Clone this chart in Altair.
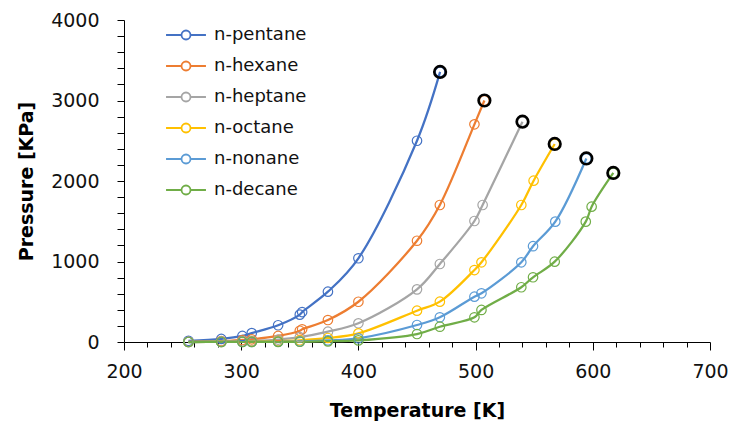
import altair as alt
import pandas as pd

# Series names and their Excel-style colours
names = ["n-pentane", "n-hexane", "n-heptane", "n-octane", "n-nonane", "n-decane"]
colors = ["#4472C4", "#ED7D31", "#A5A5A5", "#FFC000", "#5B9BD5", "#70AD47"]

# Vapour pressure curves: temperature [K] and pressure [kPa]
pentane_T = [255, 283, 301, 309, 331.5, 350, 352, 374, 400, 450, 469.7]
pentane_P = [14, 38, 75, 110, 208, 340, 372, 625, 1040, 2500, 3355]

hexane_T = [255, 283, 301, 309, 331.5, 350, 352, 374, 400, 450, 469.5, 499, 507.5]
hexane_P = [3, 11, 25, 33, 75, 140, 158, 273, 500, 1258, 1702, 2704, 3000]

heptane_T = [255, 283, 301, 309, 331.5, 350, 374, 400, 450, 469.5, 499, 506, 540]
heptane_P = [1, 4, 8, 12, 30, 60, 128, 232, 654, 969, 1503, 1702, 2737]

octane_T = [255, 283, 301, 309, 331.5, 350, 374, 400, 450, 469.5, 499, 505, 539, 549.5, 567.5]
octane_P = [0, 1.5, 3, 4, 11, 21, 50, 108, 389, 501, 894, 990, 1702, 2004, 2460]

nonane_T = [255, 283, 301, 309, 331.5, 350, 374, 400, 450, 469.5, 499, 505, 539, 549, 568, 594.5]
nonane_P = [0, 0.5, 1, 1.5, 4, 8, 20, 46, 211, 307, 563, 605, 990, 1190, 1495, 2280]

decane_T = [255, 283, 301, 309, 331.5, 350, 374, 400, 450, 469.5, 499, 505, 539, 549, 567.5, 594, 599, 617.5]
decane_P = [0, 0.2, 0.4, 0.6, 1.5, 3, 8, 20, 99, 190, 307, 398, 680, 804, 998, 1495, 1681, 2100]

series_T = [pentane_T, hexane_T, heptane_T, octane_T, nonane_T, decane_T]
series_P = [pentane_P, hexane_P, heptane_P, octane_P, nonane_P, decane_P]

# Axis tick positions (labels only on the major ones)
x_ticks = list(range(200, 701, 20))
y_ticks = list(range(0, 4001, 200))

rows = []
for name, ts, ps in zip(names, series_T, series_P):
    for i, (t, p) in enumerate(zip(ts, ps)):
        rows.append({"series": name, "T": t, "P": p, "idx": i})
df = pd.DataFrame(rows)

# Critical points: last point of each curve
crit = pd.DataFrame({"series": names,
                     "T": [ts[-1] for ts in series_T],
                     "P": [ps[-1] for ps in series_P]})

FONT = "DejaVu Sans"
INK = "#111111"

x_axis = alt.Axis(
    title="Temperature [K]",
    values=x_ticks,
    labelExpr="datum.value % 100 === 0 ? datum.label : ''",
    format="d",
    grid=False,
    tickSize=8,
    tickDash={"condition": {"test": "datum.value % 100 !== 0", "value": [5, 20]},
              "value": [10, 0]},
    tickColor="#000000",
    domainColor="#000000",
    labelFont=FONT, labelFontSize=19, labelColor=INK,
    labelPadding=12, labelOverlap=False, labelFlush=False,
    titleFont=FONT, titleFontSize=19, titleFontWeight="bold", titleColor="#000000",
    titlePadding=20,
)
y_axis = alt.Axis(
    title="Pressure [KPa]",
    values=y_ticks,
    labelExpr="datum.value % 1000 === 0 ? datum.label : ''",
    format="d",
    grid=False,
    tickSize=7,
    tickColor="#000000",
    domainColor="#000000",
    labelFont=FONT, labelFontSize=19, labelColor=INK,
    labelPadding=18, labelOverlap=False, labelFlush=False,
    titleFont=FONT, titleFontSize=19, titleFontWeight="bold", titleColor="#000000",
    titlePadding=14,
)

x_scale = alt.Scale(domain=[200, 700], nice=False, zero=False)
y_scale = alt.Scale(domain=[0, 4000], nice=False)


def x_enc():
    return alt.X("T:Q", scale=x_scale, axis=x_axis)


def y_enc():
    return alt.Y("P:Q", scale=y_scale, axis=y_axis)


color_scale = alt.Scale(domain=names, range=colors)

# Legend glyph: a short line with an open circle in the middle
glyph = ("M-1.33,0H-0.3A0.3,0.3 0 1,1 0.3,0A0.3,0.3 0 1,1 -0.3,0"
         "M0.3,0H1.33")

lines = alt.Chart(df).mark_line(interpolate="catmull-rom", strokeWidth=2.25).encode(
    x=x_enc(), y=y_enc(),
    color=alt.Color("series:N", scale=color_scale, sort=names,
                    legend=alt.Legend(
                        title=None, orient="none", legendX=46, legendY=-1,
                        symbolType=glyph, symbolSize=900, symbolStrokeWidth=1.8,
                        symbolFillColor="transparent",
                        labelFont=FONT, labelFontSize=18, labelColor=INK,
                        labelOffset=12, rowPadding=6, padding=0,
                    )),
    order="idx:Q",
)

points = alt.Chart(df).mark_point(filled=False, size=90, strokeWidth=1.2, opacity=1).encode(
    x=x_enc(), y=y_enc(),
    color=alt.Color("series:N", scale=color_scale, sort=names, legend=None),
)

ends = alt.Chart(crit).mark_point(filled=False, size=135, strokeWidth=2.6,
                                  color="#000000", opacity=1).encode(
    x=x_enc(), y=y_enc(),
)

chart = alt.layer(lines, points, ends).properties(
    width=586, height=322,
    autosize=alt.AutoSizeParams(type="none"),
    padding={"left": 124, "top": 20, "right": 21, "bottom": 89},
    background="white",
).configure_view(stroke=None).configure_axis(labelOverlap=False)

chart.save("out.html", embed_options={"renderer": "svg", "actions": False})
